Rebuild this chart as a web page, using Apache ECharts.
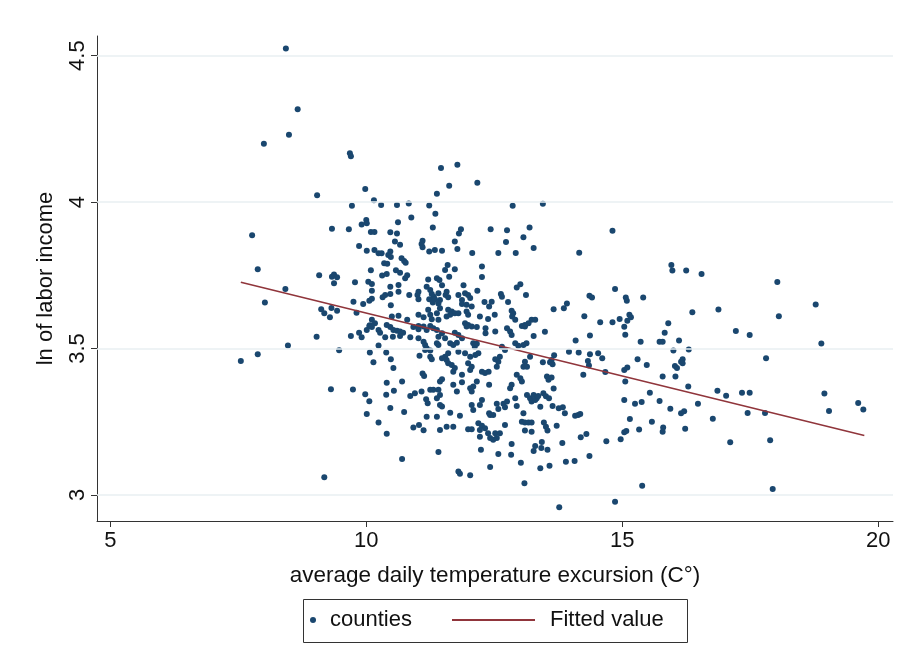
<!DOCTYPE html>
<html>
<head>
<meta charset="utf-8">
<script src="https://cdn.jsdelivr.net/npm/echarts@6/dist/echarts.min.js"></script>
<style>
html,body{margin:0;padding:0;background:#fff;}
#chart{width:917px;height:669px;}
</style>
</head>
<body>
<div id="chart"></div>
<script>
const xTicks = [5, 10, 15, 20];
const yTicks = [3, 3.5, 4, 4.5];

const countiesX = [
8.43,8.66,8.49,8.00,9.04,7.77,9.33,7.88,9.08,9.33,9.37,9.43,9.37,8.42,8.02,9.12,9.18,9.32,9.43,9.29,9.03,8.47,7.88,7.55,9.47,9.31,9.18,
9.68,9.70,9.98,10.15,10.29,10.60,10.83,11.23,9.72,11.35,10.88,10.00,9.91,10.01,10.62,11.30,9.66,10.09,10.16,10.47,10.60,10.56,10.66,11.10,11.08,11.10,9.86,10.01,10.16,10.24,10.30,10.47,10.43,10.48,11.23,11.34,10.69,10.74,10.77,10.35,10.41,10.09,10.58,10.66,10.31,10.40,10.80,10.76,9.78,10.04,10.11,10.63,10.47,11.21,11.38,10.11,10.37,10.47,10.32,10.63,10.84,11.02,11.00,11.02,11.18,11.25,11.28,11.32,11.23,11.30,11.34,10.11,10.06,9.75,9.94,10.48,9.81,10.11,10.17,10.07,10.50,10.63,10.80,11.02,11.12,11.21,11.25,11.28,11.38,
10.06,10.11,10.01,10.24,10.27,10.40,10.47,10.53,10.60,10.66,10.72,10.92,11.02,11.02,11.12,11.18,11.25,11.31,11.38,9.70,9.86,9.91,10.37,10.52,10.66,10.86,11.02,11.12,11.15,11.18,11.25,11.15,11.38,10.24,10.07,10.39,10.14,10.48,10.53,11.04,11.25,11.28,11.10,11.13,10.40,10.70,9.74,9.98,10.06,10.39,10.54,10.86,10.95,11.08,11.25,11.31,11.17,11.20,10.47,10.74,10.01,10.24,11.18,10.92,11.03,11.12,10.40,10.70,
11.78,11.46,11.62,12.17,11.38,12.86,11.85,11.81,12.43,12.75,13.19,13.07,12.73,11.73,11.78,13.27,11.48,12.07,12.58,12.92,11.59,11.54,11.73,11.62,12.26,12.26,11.43,11.48,11.90,12.94,13.01,12.17,11.57,11.55,11.60,11.41,11.44,11.80,11.93,11.99,12.03,11.87,12.63,12.65,13.12,12.31,12.45,12.40,12.77,11.87,11.96,12.06,11.41,11.44,11.60,11.67,11.73,11.80,11.64,11.57,11.96,11.99,12.51,12.84,12.87,12.85,12.22,12.38,13.23,13.30,13.17,12.91,11.41,11.93,11.99,13.10,
11.96,12.06,12.16,12.33,12.33,12.52,12.75,12.81,12.84,13.04,13.10,13.27,11.48,11.41,11.54,11.73,11.80,11.87,11.64,11.70,11.77,12.09,12.12,12.16,12.91,12.97,13.07,13.13,11.41,12.65,12.71,11.60,11.54,11.48,11.57,11.80,11.93,12.03,12.13,12.19,12.61,12.58,12.55,12.52,13.20,13.10,13.07,13.14,11.60,11.67,11.73,11.70,11.99,12.06,12.03,12.26,12.32,12.39,11.48,11.44,11.87,11.87,12.16,12.94,13.01,13.04,11.70,11.77,12.03,12.06,12.09,12.40,12.84,12.81,11.41,11.44,11.38,13.14,13.20,13.27,13.33,13.23,13.30,13.36,12.91,12.94,12.75,12.68,12.71,12.26,12.22,12.06,12.09,12.55,12.58,11.44,11.48,11.64,11.83,12.40,12.42,12.48,11.38,13.07,12.19,12.26,12.32,12.22,13.04,13.10,13.17,13.23,11.57,11.70,11.44,11.99,12.06,12.71,13.10,13.23,12.38,12.42,12.48,12.52,12.61,12.22,12.55,13.30,12.84,13.27,11.41,12.24,12.58,12.83,13.02,12.42,11.80,11.83,12.03,13.09,
13.45,14.81,14.16,14.86,14.36,14.41,15.07,15.09,15.41,13.92,13.86,13.66,14.26,14.57,14.81,14.95,15.10,15.14,15.17,15.04,15.06,13.49,14.09,14.37,15.36,15.73,15.79,15.83,13.45,13.59,13.64,13.67,13.62,13.96,14.15,14.37,14.53,14.61,14.33,14.35,15.30,15.48,15.04,15.10,15.06,15.79,14.67,14.24,13.53,13.56,13.62,13.66,13.46,13.51,13.57,13.40,13.64,13.76,13.84,13.88,14.08,14.14,14.18,15.04,15.25,15.38,15.54,15.73,13.47,13.51,13.54,13.72,13.43,13.54,13.42,13.83,14.19,14.30,14.69,14.97,15.04,15.08,15.15,15.33,15.58,15.80,15.79,13.40,13.58,13.90,14.07,14.36,15.39,13.77,14.86,
15.96,15.98,16.25,16.55,18.03,18.78,16.37,16.88,18.06,15.90,17.22,17.49,16.11,18.89,16.00,16.30,17.81,16.18,16.15,16.18,16.03,16.07,16.04,16.29,16.86,17.03,17.34,17.49,18.95,19.61,19.71,15.94,16.48,16.15,16.21,16.77,17.45,17.79,19.04,16.23,17.11,17.89,17.94
];

const countiesY = [
4.524,4.317,4.230,4.199,4.023,3.887,3.909,3.771,3.750,3.745,3.753,3.743,3.723,3.703,3.657,3.634,3.620,3.638,3.629,3.607,3.540,3.510,3.480,3.457,3.494,3.361,3.060,
4.167,4.156,4.045,4.006,3.990,3.990,3.995,3.988,3.987,3.960,3.947,3.939,3.923,3.928,3.931,3.913,3.907,3.898,3.898,3.897,3.893,3.865,3.854,3.868,3.857,3.846,3.850,3.834,3.836,3.825,3.825,3.831,3.819,3.812,3.831,3.836,3.808,3.799,3.793,3.791,3.789,3.767,3.767,3.759,3.749,3.754,3.750,3.740,3.726,3.728,3.720,3.717,3.711,3.736,3.740,3.697,3.683,3.686,3.675,3.694,3.683,3.694,3.683,3.668,3.711,3.700,3.686,3.677,3.668,3.657,3.668,3.670,3.663,3.660,3.652,3.648,3.622,3.598,3.586,3.579,3.609,3.612,3.598,3.615,3.607,3.632,3.615,3.600,3.620,
3.577,3.573,3.563,3.563,3.554,3.580,3.573,3.563,3.561,3.558,3.554,3.573,3.577,3.566,3.575,3.563,3.577,3.569,3.563,3.543,3.554,3.538,3.538,3.540,3.543,3.538,3.535,3.523,3.512,3.501,3.493,3.495,3.518,3.510,3.486,3.486,3.453,3.463,3.433,3.475,3.472,3.463,3.415,3.406,3.383,3.387,3.360,3.344,3.320,3.342,3.356,3.338,3.347,3.353,3.359,3.359,3.327,3.313,3.297,3.283,3.276,3.247,3.267,3.230,3.239,3.221,3.209,3.123,
4.127,4.116,4.056,4.066,4.028,3.987,3.907,3.893,3.907,3.904,3.913,3.880,3.864,3.865,3.840,3.843,3.834,3.826,3.826,3.826,3.785,3.768,3.771,3.745,3.780,3.744,3.734,3.716,3.716,3.708,3.719,3.697,3.694,3.683,3.675,3.689,3.666,3.683,3.689,3.683,3.672,3.666,3.686,3.677,3.683,3.659,3.660,3.643,3.659,3.652,3.649,3.643,3.654,3.637,3.632,3.626,3.620,3.620,3.615,3.609,3.626,3.615,3.615,3.629,3.620,3.609,3.609,3.601,3.598,3.598,3.586,3.598,3.598,3.586,3.580,3.580,
3.575,3.575,3.573,3.569,3.552,3.558,3.569,3.558,3.546,3.577,3.575,3.543,3.552,3.540,3.535,3.554,3.546,3.535,3.518,3.512,3.520,3.518,3.506,3.516,3.518,3.509,3.512,3.518,3.512,3.506,3.495,3.484,3.472,3.467,3.461,3.489,3.484,3.472,3.478,3.484,3.472,3.455,3.438,3.463,3.472,3.455,3.438,3.438,3.450,3.444,3.433,3.421,3.450,3.438,3.427,3.421,3.416,3.421,3.395,3.387,3.410,3.385,3.387,3.410,3.398,3.387,3.376,3.353,3.364,3.353,3.370,3.376,3.376,3.364,3.359,3.341,3.330,3.341,3.330,3.341,3.330,3.319,3.324,3.338,3.330,3.304,3.319,3.311,3.299,3.324,3.307,3.307,3.290,3.311,3.293,3.307,3.302,3.281,3.270,3.279,3.273,3.273,3.267,3.279,3.245,3.236,3.228,3.222,3.250,3.247,3.247,3.247,3.233,3.233,3.222,3.224,3.224,3.239,3.220,3.216,3.211,3.194,3.188,3.211,3.211,3.199,3.194,3.167,3.174,3.150,3.147,3.154,3.140,3.137,3.110,3.095,3.080,3.072,3.067,3.040,
3.994,3.902,3.827,3.703,3.680,3.674,3.674,3.663,3.674,3.654,3.637,3.634,3.610,3.590,3.590,3.601,3.595,3.615,3.607,3.574,3.547,3.557,3.527,3.544,3.523,3.523,3.523,3.554,3.453,3.453,3.446,3.477,3.461,3.489,3.486,3.480,3.484,3.467,3.457,3.442,3.463,3.444,3.427,3.435,3.387,3.404,3.420,3.410,3.404,3.393,3.401,3.363,3.347,3.337,3.330,3.301,3.304,3.296,3.299,3.279,3.270,3.273,3.276,3.324,3.311,3.317,3.349,3.321,3.247,3.233,3.220,3.236,3.181,3.154,3.160,3.177,3.197,3.208,3.183,3.190,3.214,3.218,3.259,3.223,3.250,3.230,3.216,3.091,3.100,3.113,3.116,3.133,3.031,2.958,2.977,
3.785,3.766,3.766,3.754,3.727,3.650,3.624,3.633,3.610,3.586,3.560,3.546,3.527,3.517,3.493,3.497,3.467,3.463,3.455,3.450,3.440,3.433,3.404,3.370,3.356,3.339,3.349,3.349,3.346,3.314,3.292,3.294,3.311,3.279,3.286,3.260,3.280,3.280,3.287,3.226,3.180,3.187,3.020
];

const fitX = [7.55, 19.73];
const fitY = [3.726, 3.203];

const FONT = '"Liberation Sans", Arial, Helvetica, sans-serif';
const TXT = '#111';
const AX = '#333';

const scatterData = countiesX.map((x, i) => [x, countiesY[i]]);
const fitData = fitX.map((x, i) => [x, fitY[i]]);

const chart = echarts.init(document.getElementById('chart'), null, {renderer: 'canvas'});
chart.setOption({
  animation: false,
  backgroundColor: '#ffffff',
  textStyle: {fontFamily: FONT, color: TXT},
  grid: {left: 97, top: 36, right: 24, bottom: 148, containLabel: false},
  xAxis: {
    type: 'value', min: 4.74, max: 20.29,
    name: 'average daily temperature excursion (C°)',
    nameLocation: 'middle', nameGap: 43,
    nameTextStyle: {fontSize: 22.5, color: TXT, fontFamily: FONT},
    axisLine: {show: true, onZero: false, lineStyle: {color: AX, width: 1}},
    axisTick: {show: true, length: 6, customValues: xTicks, lineStyle: {color: AX}},
    axisLabel: {customValues: xTicks, fontSize: 22, color: TXT, margin: 9, fontFamily: FONT},
    splitLine: {show: false}
  },
  yAxis: {
    type: 'value', min: 2.911, max: 4.567,
    name: 'ln of labor income',
    nameLocation: 'middle', nameGap: 40,
    nameTextStyle: {fontSize: 22, color: TXT, fontFamily: FONT},
    axisLine: {show: true, onZero: false, lineStyle: {color: AX, width: 1}},
    axisTick: {show: true, length: 6, customValues: yTicks, lineStyle: {color: AX}},
    axisLabel: {customValues: yTicks, rotate: 90, fontSize: 22, color: TXT, margin: 8, fontFamily: FONT,
      formatter: v => String(v)},
    splitLine: {show: false}
  },
  legend: [
    {
      data: [{name: 'counties', icon: 'circle'}],
      left: 310, top: 609, itemWidth: 6, itemHeight: 6, padding: 0,
      textStyle: {fontSize: 22, color: TXT, fontFamily: FONT, padding: [0, 0, 0, 9]}
    },
    {
      data: [{name: 'Fitted value', icon: 'rect'}],
      left: 452, top: 609, itemWidth: 83, itemHeight: 2, padding: 0,
      itemStyle: {color: '#90353b'},
      textStyle: {fontSize: 22, color: TXT, fontFamily: FONT, padding: [0, 0, 0, 10]}
    }
  ],
  graphic: [{
    type: 'rect', left: 301, top: 597, silent: true,
    shape: {width: 384, height: 43},
    style: {fill: 'none', stroke: '#333', lineWidth: 1}
  }],
  series: [
    {
      name: 'grid', type: 'scatter', data: [], z: 1, silent: true,
      markLine: {
        silent: true, symbol: 'none', label: {show: false},
        lineStyle: {color: '#e9eff2', width: 1.5, type: 'solid'},
        data: yTicks.map(v => ({yAxis: v}))
      }
    },
    {
      name: 'counties', type: 'scatter', data: scatterData, z: 2,
      symbol: 'circle', symbolSize: 6,
      itemStyle: {color: '#1a476f', opacity: 1}
    },
    {
      name: 'Fitted value', type: 'line', data: fitData, z: 3,
      showSymbol: false, symbol: 'none',
      lineStyle: {color: '#90353b', width: 1.6},
      itemStyle: {color: '#90353b'}
    }
  ]
});
</script>
</body>
</html>
